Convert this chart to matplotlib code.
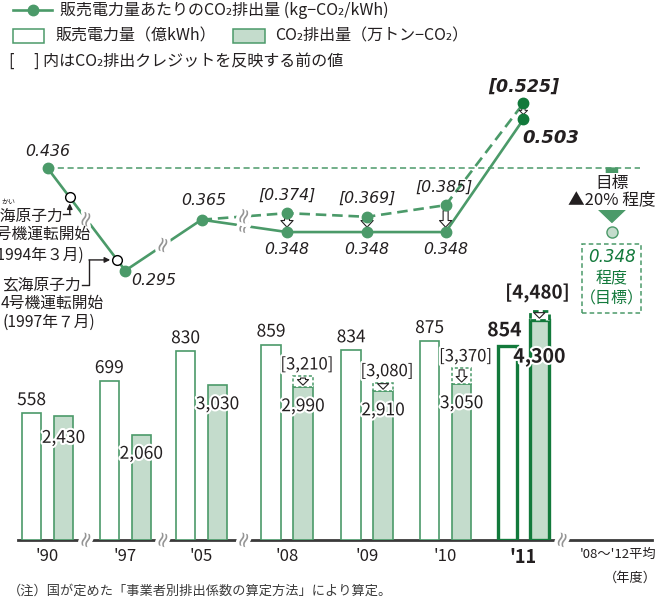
import numpy as np
import matplotlib
matplotlib.use('Agg')
import matplotlib.pyplot as plt
import matplotlib.patheffects as pe
from matplotlib.lines import Line2D
from matplotlib.patches import Rectangle
from matplotlib.transforms import IdentityTransform

plt.rcParams['font.family'] = ['Noto Sans CJK JP', 'DejaVu Sans']

# data
years = ["'90", "'97", "'05", "'08", "'09", "'10", "'11"]
sales = [558, 699, 830, 859, 834, 875, 854]                 # 販売電力量 (億kWh)
co2 = [2430, 2060, 3030, 2990, 2910, 3050, 4300]            # CO2排出量 (万トン-CO2)
co2_before = [None, None, None, 3210, 3080, 3370, 4480]     # クレジット反映前
intensity = [0.436, 0.295, 0.365, 0.348, 0.348, 0.348, 0.503]
intensity_before = [None, None, 0.365, 0.374, 0.369, 0.385, 0.525]
avg_label = "'08～'12平均"
target = 0.348

W, H = 665, 602
GREEN = '#4b9a69'
DARK = '#12793b'
FILL = '#c4dccc'
INK = '#231f20'

# layout
xpos = np.array([0, 1.01, 2.0, 3.11, 4.15, 5.17, 6.18])
x_avg = 7.415
x_target = 7.33
xlim = (-0.617, 8.019)
off, bw = 0.208, 0.253

fig = plt.figure(figsize=(W / 100, H / 100), dpi=100)
halo = [pe.withStroke(linewidth=3, foreground='white')]


def put(x, y, s, **kw):
    # x, y in pixels from the top-left corner
    kw.setdefault('color', INK)
    kw.setdefault('va', 'center')
    return fig.text(x / W, 1 - y / H, s, **kw)


def poly(xs, ys, **kw):
    fig.add_artist(Line2D(xs, [H - y for y in ys], transform=IdentityTransform(), **kw))


def squiggle(ax, x, y):
    ax.text(x, y, '≈', rotation=72, ha='center', va='center', fontsize=15,
            color='#959595', family='DejaVu Sans', zorder=6, clip_on=False,
            path_effects=[pe.withStroke(linewidth=5, foreground='white')])


ax_bar = fig.add_axes([0, 1 - 540 / H, 1, 240 / H])
ax_co2 = ax_bar.twinx()
ax_line = fig.add_axes([0, 1 - 290 / H, 1, 200 / H])
for ax in (ax_bar, ax_co2, ax_line):
    ax.set_xlim(*xlim)
    ax.patch.set_visible(False)
    for s in ax.spines.values():
        s.set_visible(False)
    ax.set_yticks([])
ax_line.set_xticks([])
ax_bar.set_ylim(0, 1055)
ax_co2.set_ylim(0, 4697)
ax_line.set_ylim(0.2683, 0.5434)

# ---- bars
ax_bar.plot([-0.383, 7.85], [0, 0], color='#3a3a3a', lw=2, zorder=2, clip_on=False)
ax_bar.bar(xpos[:6] - off, sales[:6], bw, color='white', edgecolor=GREEN, lw=1.2, zorder=3)
ax_bar.bar(xpos[6] - off, sales[6], bw, color='white', edgecolor=DARK, lw=2.4, zorder=3)
ax_co2.bar(xpos[:6] + off, co2[:6], bw, color=FILL, edgecolor=GREEN, lw=1.2, zorder=3)
ax_co2.bar(xpos[6] + off, co2[6], bw, color=FILL, edgecolor=DARK, lw=2.4, zorder=3)

for i in range(3, 7):
    last = i == 6
    ax_co2.bar(xpos[i] + off, co2_before[i] - co2[i], bw, bottom=co2[i], color='white',
               edgecolor=DARK if last else GREEN, lw=2 if last else 1.1,
               ls=(0, (2, 1.5)), zorder=4)
    ax_co2.annotate('', xy=(xpos[i] + off, co2[i]), xytext=(xpos[i] + off, co2_before[i]),
                    arrowprops=dict(arrowstyle='simple,head_length=0.5,head_width=1.0,tail_width=0.45',
                                    mutation_scale=8, fc='white', ec=INK, lw=0.8,
                                    shrinkA=1.5, shrinkB=1.5), zorder=5)

for i in range(7):
    last = i == 6
    ax_bar.annotate(f'{sales[i]}', (xpos[i] - off, sales[i]),
                    xytext=(-3, 15) if last else (0, 13), textcoords='offset pixels',
                    ha='center', va='center', fontsize=14 if last else 12.5,
                    fontweight='bold' if last else 'normal', color=INK, path_effects=halo)
    dy = -37 if last else (-22 if i == 0 else -19)
    ax_co2.annotate(f'{co2[i]:,}', (xpos[i] + off, co2[i]), xytext=(0, dy),
                    textcoords='offset pixels', ha='center', va='center',
                    fontsize=14 if last else 12.5, fontweight='bold' if last else 'normal',
                    color=INK, path_effects=halo, zorder=6)
    if co2_before[i] is not None:
        ax_co2.annotate(f'[{co2_before[i]:,}]', (xpos[i] + off, co2_before[i]),
                        xytext=(-2, 18) if last else (4, 11), textcoords='offset pixels',
                        ha='center', va='center', fontsize=13.5 if last else 12,
                        fontweight='bold' if last else 'normal', color=INK,
                        path_effects=halo, zorder=6)

ax_bar.set_xticks(list(xpos) + [x_avg])
ax_bar.set_xticklabels(years + [avg_label])
ax_bar.tick_params(axis='x', length=0, pad=6, labelsize=12, colors=INK)
labels = ax_bar.get_xticklabels()
labels[6].set_fontweight('bold')
labels[6].set_fontsize(13)
labels[7].set_fontsize(9.5)

mids = [(xpos[i] + xpos[i + 1]) / 2 for i in range(3)]
for m in mids + [6.69]:
    squiggle(ax_bar, m, 0)

# ---- intensity line
ax_line.plot([xpos[0], 7.69], [intensity[0]] * 2, color=GREEN, lw=1.1, ls=(0, (4, 2.4)), zorder=1)
ax_line.plot(xpos, intensity, color=GREEN, lw=1.9, zorder=3)
ax_line.plot(xpos[2:], intensity_before[2:], color=GREEN, lw=1.9, ls=(0, (4, 2.2)), zorder=2)
ax_line.plot(xpos[:6], intensity[:6], 'o', color=GREEN, ms=7.5, zorder=4)
ax_line.plot(xpos[3:6], intensity_before[3:6], 'o', color=GREEN, ms=7.5, zorder=4)
ax_line.plot([xpos[6]] * 2, [intensity[6], intensity_before[6]], 'o', color=DARK, ms=7.5, zorder=4)

for m in mids:
    squiggle(ax_line, m, np.interp(m, xpos, intensity))
squiggle(ax_line, mids[2], np.interp(mids[2], xpos[2:4], intensity_before[2:4]))

# Genkai unit start markers on the '90-'97 segment
xc = np.array([0.286, 0.896]) * xpos[1]
yc = np.interp(xc, xpos[:2], intensity[:2])
ax_line.plot(xc, yc, 'o', mfc='white', mec='black', ms=7, mew=1, zorder=5)

lab = dict(textcoords='offset pixels', ha='center', va='center', color=INK,
           family='DejaVu Sans', style='italic', fontsize=11.3)
ax_line.annotate(f'{intensity[0]:.3f}', (xpos[0], intensity[0]), xytext=(0, 17), **lab)
ax_line.annotate(f'{intensity[1]:.3f}', (xpos[1], intensity[1]), xytext=(28, -10), **lab)
ax_line.annotate(f'{intensity[2]:.3f}', (xpos[2], intensity[2]), xytext=(2, 19), **lab)
for i, dx in zip(range(3, 6), (0, 0, -2)):
    ax_line.annotate(f'{intensity[i]:.3f}', (xpos[i], intensity[i]), xytext=(0, -17), **lab)
    ax_line.annotate(f'[{intensity_before[i]:.3f}]', (xpos[i], intensity_before[i]),
                     xytext=(dx, 18), **lab)
    ax_line.annotate('', xy=(xpos[i], intensity[i]), xytext=(xpos[i], intensity_before[i]),
                     arrowprops=dict(arrowstyle='simple,head_length=0.6,head_width=1.1,tail_width=0.45',
                                     mutation_scale=8, fc='white', ec=INK, lw=0.8,
                                     shrinkA=4, shrinkB=3.5))
ax_line.annotate(f'[{intensity_before[6]:.3f}]', (xpos[6], intensity_before[6]), xytext=(0, 17),
                 **{**lab, 'fontweight': 'bold', 'fontsize': 12.5})
ax_line.annotate(f'{intensity[6]:.3f}', (xpos[6], intensity[6]), xytext=(27, -19),
                 **{**lab, 'fontweight': 'bold', 'fontsize': 13})
ax_line.annotate('', xy=(xpos[6], intensity[6]), xytext=(xpos[6], intensity_before[6]),
                 arrowprops=dict(arrowstyle='simple,head_length=0.5,head_width=1.0,tail_width=0.4',
                                 mutation_scale=6, fc='white', ec=INK, lw=0.7,
                                 shrinkA=3.5, shrinkB=3.5), zorder=3)

# target arrow and target point
ax_line.annotate('', xy=(x_target, target), xytext=(x_target, intensity[0]),
                 arrowprops=dict(arrowstyle='simple,head_length=0.55,head_width=1.15,tail_width=0.4',
                                 mutation_scale=20, color=GREEN, shrinkA=0, shrinkB=7))
box = dict(boxstyle='square,pad=0.1', fc='white', ec='none')
ax_line.annotate('目標', (x_target, intensity[0]), xytext=(0, -15), textcoords='offset pixels',
                 ha='center', va='center', fontsize=12, color=INK, bbox=box, zorder=6)
ax_line.annotate('▲20% 程度', (x_target, intensity[0]), xytext=(0, -32), textcoords='offset pixels',
                 ha='center', va='center', fontsize=12, color=INK, bbox=box, zorder=6)
ax_line.plot(x_target, target, 'o', mfc=FILL, mec=GREEN, ms=8, mew=1, zorder=5)

tx, ty = ax_line.transData.transform((x_target, target))
fig.add_artist(Rectangle((tx - 29.5, ty - 81), 59, 69, transform=IdentityTransform(),
                         fill=False, ec=GREEN, lw=1.1, ls=(0, (3, 2))))
ax_line.annotate(f'{target:.3f}', (x_target, target), xytext=(0, -25), textcoords='offset pixels',
                 ha='center', va='center', fontsize=12, color=DARK, style='italic',
                 family='DejaVu Sans')
ax_line.annotate('程度', (x_target, target), xytext=(0, -47), textcoords='offset pixels',
                 ha='center', va='center', fontsize=11.5, color=DARK)
ax_line.annotate('（目標）', (x_target, target), xytext=(0, -67), textcoords='offset pixels',
                 ha='center', va='center', fontsize=11.5, color=DARK)

# ---- Genkai notes (cut at the left edge as in the source)
c1 = ax_line.transData.transform((xc[0], yc[0]))
c2 = ax_line.transData.transform((xc[1], yc[1]))
c1y, c2y = H - c1[1], H - c2[1]
put(8, 202, 'かい', ha='center', fontsize=5)
put(-16, 216, '玄海原子力', ha='left', fontsize=11.3)
put(-12, 234, '3号機運転開始', ha='left', fontsize=11.3)
put(84, 255, '(1994年３月)', ha='right', fontsize=11.3)
put(2, 285, '玄海原子力', ha='left', fontsize=11.3)
put(1, 303, '4号機運転開始', ha='left', fontsize=11.3)
put(3, 322, '(1997年７月)', ha='left', fontsize=11.3)

poly([63, c1[0]], [214, 214], color=INK, lw=1)
ax_line.annotate('', xy=(c1[0], H - (c1y + 6)), xycoords='figure pixels',
                 xytext=(c1[0], H - 214), textcoords='figure pixels',
                 arrowprops=dict(arrowstyle='-|>', color=INK, lw=1, mutation_scale=8,
                                 shrinkA=0, shrinkB=0))
poly([82, 89, 89], [285, 285, c2y], color=INK, lw=1)
ax_line.annotate('', xy=(c2[0] - 7, H - c2y), xycoords='figure pixels',
                 xytext=(89, H - c2y), textcoords='figure pixels',
                 arrowprops=dict(arrowstyle='-|>', color=INK, lw=1, mutation_scale=8,
                                 shrinkA=0, shrinkB=0))

# ---- legend
poly([13, 52], [10, 10], color=GREEN, lw=1.9)
poly([33], [10], color=GREEN, marker='o', ms=7.5, ls='none')
put(60, 10, '販売電力量あたりのCO₂排出量 (kg−CO₂/kWh)', fontsize=11.5)
fig.add_artist(Rectangle((13, H - 43), 31, 14, transform=IdentityTransform(),
                         fc='white', ec=GREEN, lw=1.1))
put(55, 36, '販売電力量（億kWh）', fontsize=11.5)
fig.add_artist(Rectangle((233, H - 43), 32, 14, transform=IdentityTransform(),
                         fc=FILL, ec=GREEN, lw=1.1))
put(275, 36, 'CO₂排出量（万トン−CO₂）', fontsize=11.5)
put(9, 61, '[\u3000 ] 内はCO₂排出クレジットを反映する前の値', fontsize=11.5)

put(657, 578, '（年度）', ha='right', fontsize=9.5)
put(8, 591, '（注）国が定めた「事業者別排出係数の算定方法」により算定。', fontsize=9.5, color='#3a3a3a')

fig.savefig('out.png', dpi=100)
